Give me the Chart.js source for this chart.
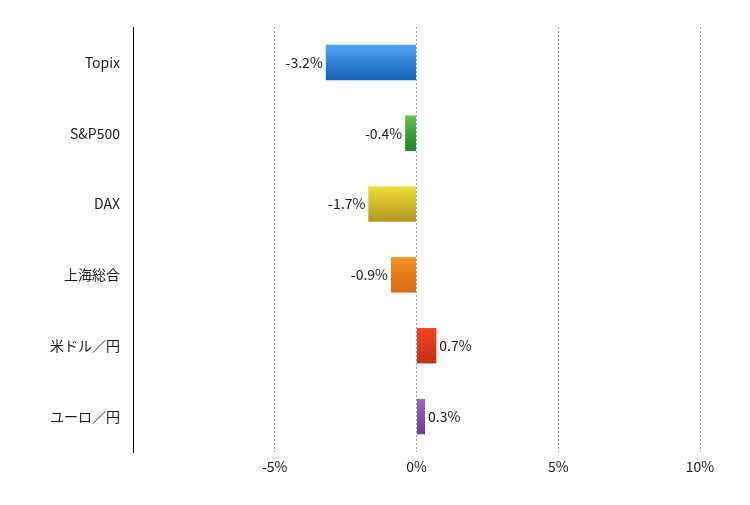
<!DOCTYPE html>
<html><head><meta charset="utf-8">
<script src="https://cdn.jsdelivr.net/npm/chart.js@4"></script>
<style>html,body{margin:0;padding:0;background:#fff}#wrap{width:750px;height:505px}</style>
</head><body><div id="wrap"><canvas id="c" width="750" height="505"></canvas></div>
<script>
const categories = ["Topix", "S&P500", "DAX", "上海総合", "米ドル／円", "ユーロ／円"];
const values = [-3.2, -0.4, -1.7, -0.9, 0.7, 0.3];
const topColors = ["#52a6f2", "#62c04e", "#f2dc34", "#f2921e", "#f4461c", "#9a68c4"];
const bottomColors = ["#145fbe", "#1b8428", "#b29622", "#da6a16", "#c42e10", "#6a3c9c"];
const xTicks = [-10, -5, 0, 5, 10];
const FONT = "'Noto Sans CJK JP', 'Noto Sans', sans-serif";

function grad(ctx, i) {
  const chart = ctx.chart;
  const y = chart.scales && chart.scales.y;
  if (!chart.chartArea || !y) return topColors[i];
  const c = y.getPixelForValue(i);
  const g = chart.ctx.createLinearGradient(0, c - 18, 0, c + 18);
  g.addColorStop(0, topColors[i]);
  g.addColorStop(1, bottomColors[i]);
  return g;
}

const labelPlugin = {
  id: 'barLabels',
  afterDatasetsDraw(chart) {
    const ctx = chart.ctx;
    const meta = chart.getDatasetMeta(0);
    ctx.save();
    ctx.font = "14px " + FONT;
    ctx.fillStyle = "#1a1a1a";
    ctx.textBaseline = "middle";
    meta.data.forEach((bar, i) => {
      const v = values[i];
      const txt = v.toFixed(1) + "%";
      if (v < 0) { ctx.textAlign = "right"; ctx.fillText(txt, bar.x - 3, bar.y); }
      else { ctx.textAlign = "left"; ctx.fillText(txt, bar.x + 3, bar.y); }
    });
    ctx.restore();
  }
};

new Chart(document.getElementById('c'), {
  type: 'bar',
  data: {
    labels: categories,
    datasets: [{
      data: values,
      backgroundColor: (ctx) => grad(ctx, ctx.dataIndex),
      borderWidth: 0,
      barPercentage: 0.5,
      categoryPercentage: 1
    }]
  },
  options: {
    indexAxis: 'y',
    responsive: false,
    animation: false,
    layout: { padding: { left: 0, top: 27, right: 50, bottom: 20 } },
    plugins: { legend: { display: false }, tooltip: { enabled: false } },
    scales: {
      x: {
        min: -10, max: 10,
        afterBuildTicks: (s) => { s.ticks = xTicks.map(v => ({ value: v })); },
        afterFit: (s) => { s.height = 33; },
        ticks: {
          padding: 6,
          color: "#1a1a1a",
          font: { family: FONT, size: 14 },
          callback: (v) => v === -10 ? "" : v + "%"
        },
        grid: {
          drawTicks: false,
          color: (c) => (c.tick && c.tick.value === -10) ? "rgba(0,0,0,0)" : "#a0a0a0",
          lineWidth: 1
        },
        border: { display: false, dash: [2, 2] }
      },
      y: {
        afterFit: (s) => { s.width = 133; },
        ticks: {
          padding: 13,
          color: "#1a1a1a",
          font: { family: FONT, size: 14 }
        },
        grid: { display: false, drawTicks: false },
        border: { display: true, color: "#000", width: 1 }
      }
    }
  },
  plugins: [labelPlugin]
});
</script></body></html>
